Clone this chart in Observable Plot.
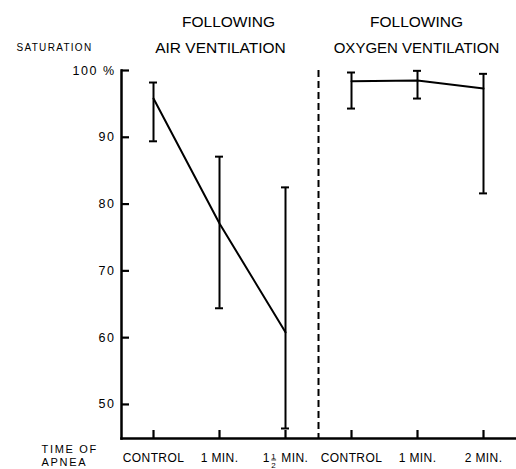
<!DOCTYPE html>
<html><head><meta charset="utf-8">
<script src="https://cdn.jsdelivr.net/npm/d3@7"></script>
<script src="https://cdn.jsdelivr.net/npm/@observablehq/plot@0.6"></script>
<style>
html,body{margin:0;padding:0;background:#fff;}
</style>
</head><body><div id="chart"></div>
<script>
// time-of-apnea positions (evenly spaced), two groups split by a dashed divider
const positions = [0, 1, 2, 3, 4, 5];
const tickLabels = ["CONTROL", "1 MIN.", "1½ MIN.", "CONTROL", "1 MIN.", "2 MIN."];
const groups = ["air", "air", "air", "oxygen", "oxygen", "oxygen"];
// saturation (%) mean and range
const means = [95.8, 77.1, 60.8, 98.4, 98.5, 97.3];
const highs = [98.2, 87.1, 82.5, 99.7, 99.95, 99.5];
const lows  = [89.4, 64.4, 46.4, 94.3, 95.8, 81.6];
const yTicks = [50, 60, 70, 80, 90, 100];
const divider = [2.5];
const titleTop = ["FOLLOWING", "FOLLOWING"];
const titleBottom = ["AIR VENTILATION", "OXYGEN VENTILATION"];
const groupNames = ["air", "oxygen"];

const data = positions.map((x, i) => ({x, label: tickLabels[i], group: groups[i], mean: means[i], hi: highs[i], lo: lows[i]}));
const centers = groupNames.map(g => d3.mean(data.filter(d => d.group === g), d => d.x));

const xDomain = [-0.485, 5.5];
const yDomain = [44.9, 100];
const pxX = (xDomain[1] - xDomain[0]) / 395;   // data units per pixel

const font = "Liberation Sans, Arial, sans-serif";
const plot = Plot.plot({
  width: 516, height: 469,
  marginLeft: 121, marginRight: 0, marginTop: 70, marginBottom: 31,
  style: {fontFamily: font, background: "white", color: "#000"},
  x: {domain: xDomain, axis: null},
  y: {domain: yDomain, axis: null},
  marks: [
    Plot.frame({anchor: "left", strokeWidth: 2.5}),
    Plot.frame({anchor: "bottom", strokeWidth: 2.5}),
    // inward tick marks (outward ticks shifted inside)
    Plot.axisY({ticks: yTicks, tickSize: 8, dx: 8, strokeWidth: 2.2, tickFormat: () => "", label: null}),
    Plot.axisX({ticks: positions, tickSize: 8, dy: -8, strokeWidth: 2.2, tickFormat: () => "", label: null}),
    Plot.axisY({ticks: yTicks, tickSize: 0, tickPadding: 6, label: null,
      tickFormat: d => d === 100 ? "100 %" : String(d), fontSize: 12.5}),
    Plot.axisX({ticks: positions, tickSize: 0, tickPadding: 15, label: null,
      tickFormat: i => tickLabels[i], fontSize: 12}),
    Plot.ruleX(divider, {strokeDasharray: "7,4", strokeWidth: 2}),
    Plot.ruleX(data, {x: "x", y1: "lo", y2: "hi", strokeWidth: 2}),
    Plot.ruleY(data, {y: "hi", x1: d => d.x - 4 * pxX, x2: d => d.x + 4 * pxX, strokeWidth: 2}),
    Plot.ruleY(data, {y: "lo", x1: d => d.x - 4 * pxX, x2: d => d.x + 4 * pxX, strokeWidth: 2}),
    Plot.line(data, {x: "x", y: "mean", z: "group", strokeWidth: 2}),
    // group titles
    Plot.text([0], {x: () => centers[0], text: () => titleTop[0], frameAnchor: "top", lineAnchor: "bottom", dy: -44, dx: 9, fontSize: 15.5}),
    Plot.text([0], {x: () => centers[0], text: () => titleBottom[0], frameAnchor: "top", lineAnchor: "bottom", dy: -18, dx: 1, fontSize: 15.5}),
    Plot.text([0], {x: () => centers[1], text: () => titleTop[1], frameAnchor: "top", lineAnchor: "bottom", dy: -44, dx: -1, fontSize: 15.5}),
    Plot.text([0], {x: () => centers[1], text: () => titleBottom[1], frameAnchor: "top", lineAnchor: "bottom", dy: -18, dx: -1, fontSize: 15}),
    Plot.text(["SATURATION"], {frameAnchor: "top-left", textAnchor: "start", lineAnchor: "bottom", dx: -105, dy: -20, fontSize: 10, className: "ls13"}),
    Plot.text(["TIME OF\nAPNEA"], {frameAnchor: "bottom-left", textAnchor: "start", lineAnchor: "top", dx: -80, dy: 6, fontSize: 11, lineHeight: 1.15, className: "ls17"})
  ]
});
document.getElementById("chart").appendChild(plot);

const svg = d3.select(plot);
svg.selectAll(".ls13 text").attr("letter-spacing", 1.3);
svg.selectAll(".ls17 text").attr("letter-spacing", 1.7);
svg.selectAll('[aria-label="y-axis tick label"] text').attr("letter-spacing", 1.5);
svg.selectAll('[aria-label="x-axis tick label"] text').attr("letter-spacing", 0.4)
  .each(function() {
    if (this.textContent === "1½ MIN.") {
      const t = d3.select(this);
      t.text(null);
      t.append("tspan").text("1");
      t.append("tspan").attr("font-size", 8).attr("dx", 1.5).attr("dy", -3.5)
        .attr("text-decoration", "underline").text("1");
      t.append("tspan").attr("font-size", 8).attr("dx", -4.9).attr("dy", 9.5).text("2");
      t.append("tspan").attr("dy", -6).attr("dx", 1.5).text(" MIN.");
    }
  });
</script>
</body></html>
